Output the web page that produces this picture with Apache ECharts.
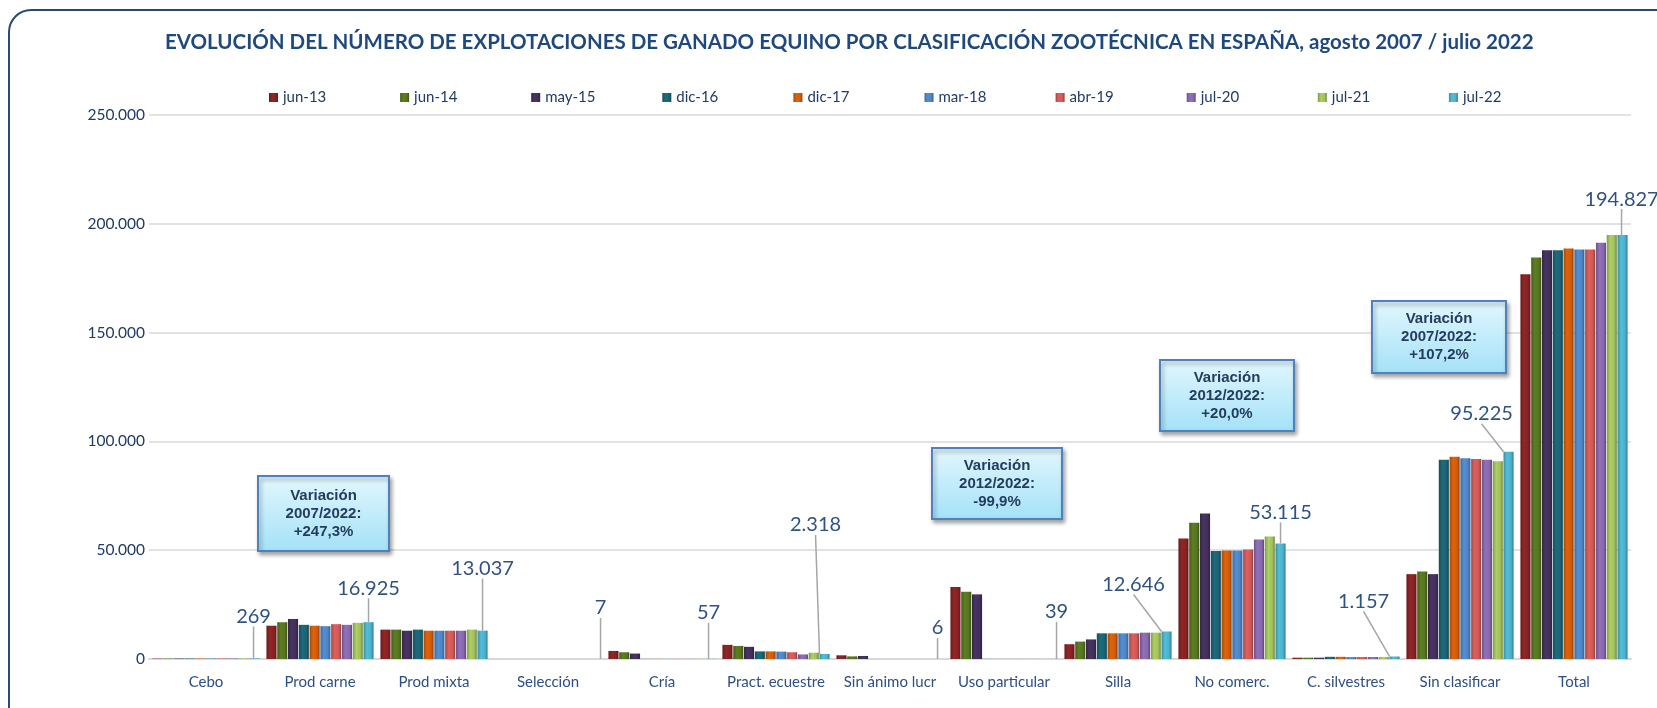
<!DOCTYPE html>
<html>
<head>
	<meta charset="utf-8">
	<title>equino</title>
	<style>
		body { margin: 0; padding: 0; background: #fff; }
		#main { width: 1657px; height: 708px; }
	</style>
</head>
<body>
	<div id="main"></div>
	<script src="https://cdn.jsdelivr.net/npm/echarts@6/dist/echarts.min.js"></script>
	<script type="text/javascript">
		// categorias (eje x)
		var categories = ['Cebo', 'Prod carne', 'Prod mixta', 'Selección', 'Cría', 'Pract. ecuestre', 'Sin ánimo lucr',
			'Uso particular', 'Silla', 'No comerc.', 'C. silvestres', 'Sin clasificar', 'Total'];
		var periods = ['jun-13', 'jun-14', 'may-15', 'dic-16', 'dic-17', 'mar-18', 'abr-19', 'jul-20', 'jul-21', 'jul-22'];

		// numero de explotaciones por periodo
		var jun13 = [180, 15300, 13500, 5, 3700, 6500, 1700, 33100, 6800, 55400, 600, 39000, 176800];
		var jun14 = [200, 16900, 13500, 5, 3100, 6000, 1200, 30900, 8000, 62600, 600, 40200, 184500];
		var may15 = [215, 18400, 13000, 5, 2500, 5600, 1400, 29700, 9000, 66900, 600, 39000, 187800];
		var dic16 = [230, 15700, 13500, 6, 60, 3500, 8, 45, 11800, 49600, 1000, 91600, 187800];
		var dic17 = [240, 15300, 13000, 6, 58, 3500, 7, 42, 11800, 49900, 1000, 92900, 188700];
		var mar18 = [245, 15100, 13000, 6, 57, 3400, 7, 41, 11800, 49900, 900, 92300, 188200];
		var abr19 = [250, 16000, 13000, 6, 57, 3100, 6, 40, 11800, 50300, 900, 91900, 188200];
		var jul20 = [255, 15700, 13000, 7, 57, 2100, 6, 40, 12100, 54900, 900, 91600, 191300];
		var jul21 = [262, 16600, 13500, 7, 57, 2900, 6, 39, 12100, 56300, 900, 90900, 194800];
		var jul22 = [269, 16925, 13037, 7, 57, 2318, 6, 39, 12646, 53115, 1157, 95225, 194827];
		var seriesData = [jun13, jun14, may15, dic16, dic17, mar18, abr19, jul20, jul21, jul22];

		// cuadros de variacion
		var noteTexts = ['Variación\n2007/2022:\n+247,3%', 'Variación\n2012/2022:\n-99,9%',
			'Variación\n2012/2022:\n+20,0%', 'Variación\n2007/2022:\n+107,2%'];

		// estilos
		var baseColors = ['#862323', '#56751F', '#42305B', '#1C6374', '#D05C0A', '#4E84C4', '#CF5956', '#8768AD', '#A0C05C', '#4CB0CA'];
		var notePos = [[258, 476, 131, 75], [932, 448, 130, 71], [1160, 360, 134, 71], [1372, 301, 134, 72]];
		var labelOffsets = [[-1, -42], [0, -34], [0, -62], [4, -51], [-2, -46], [-9, -129], [-1, -31],
			[4, -47], [-33, -47], [0, -31], [-31, -55], [-27, -38], [-1, -36]];

		function shade(hex, f) {
			var n = parseInt(hex.slice(1), 16);
			var r = Math.min(255, Math.round(((n >> 16) & 255) * f));
			var g = Math.min(255, Math.round(((n >> 8) & 255) * f));
			var b = Math.min(255, Math.round((n & 255) * f));
			return 'rgb(' + r + ',' + g + ',' + b + ')';
		}

		function fmt(v) {
			return String(v).replace(/\B(?=(\d{3})+(?!\d))/g, '.');
		}

		var series = periods.map(function (p, i) {
			var c = baseColors[i];
			var s = {
				name: p,
				type: 'bar',
				data: seriesData[i],
				barGap: '7%',
				barCategoryGap: '6%',
				itemStyle: {
					color: {
						type: 'linear', x: 0, y: 0, x2: 1, y2: 0,
						colorStops: [
							{ offset: 0, color: shade(c, 0.8) },
							{ offset: 0.35, color: shade(c, 1.08) },
							{ offset: 0.75, color: c },
							{ offset: 1, color: shade(c, 0.7) }
						]
					}
				}
			};
			if (i === periods.length - 1) {
				s.label = {
					show: true,
					position: 'top',
					fontFamily: 'Lato',
					fontSize: 20,
					color: '#2F5283',
					formatter: function (pr) { return fmt(pr.value); }
				};
				s.labelLine = { show: true, lineStyle: { color: '#A6A6A6', width: 1.5 } };
				s.labelLayout = function (pr) {
					var o = labelOffsets[pr.dataIndex];
					return {
						x: pr.rect.x + pr.rect.width / 2 + o[0],
						y: pr.rect.y + o[1],
						align: 'center',
						verticalAlign: 'middle'
					};
				};
			}
			return s;
		});

		// leyenda con posiciones fijas (una por periodo)
		var legends = periods.map(function (p, i) {
			return {
				data: [p],
				left: 264 + i * 131.1,
				top: 85,
				icon: 'rect',
				itemWidth: 9,
				itemHeight: 9,
				textStyle: {
					fontFamily: 'Lato',
					fontSize: 15,
					color: '#1F3B66'
				}
			};
		});

		var graphics = [{
			type: 'rect',
			z: -1,
			shape: { x: 9, y: 10, width: 1720, height: 760, r: 22 },
			style: { fill: 'none', stroke: '#2A4A73', lineWidth: 2 }
		}];
		noteTexts.forEach(function (t, i) {
			var p = notePos[i];
			graphics.push({
				type: 'rect',
				z: 100,
				x: p[0],
				y: p[1],
				shape: { x: 0, y: 0, width: p[2], height: p[3] },
				style: {
					fill: {
						type: 'linear', x: 0, y: 0, x2: 0, y2: 1,
						colorStops: [{ offset: 0, color: '#E3F7FE' }, { offset: 1, color: '#A3E1F7' }]
					},
					stroke: '#4F81BD',
					lineWidth: 2,
					shadowBlur: 4,
					shadowOffsetX: 2,
					shadowOffsetY: 3,
					shadowColor: 'rgba(0,0,0,0.35)'
				}
			});
			graphics.push({
				type: 'text',
				z: 101,
				x: p[0] + p[2] / 2,
				y: p[1] + p[3] / 2,
				style: {
					text: t,
					font: 'bold 15px "Liberation Sans"',
					fill: '#243D5E',
					align: 'center',
					verticalAlign: 'middle',
					lineHeight: 18
				}
			});
		});

		var myChart = echarts.init(document.getElementById('main'));
		myChart.setOption({
			animation: false,
			title: {
				text: 'EVOLUCIÓN DEL NÚMERO DE EXPLOTACIONES DE GANADO EQUINO POR CLASIFICACIÓN ZOOTÉCNICA EN ESPAÑA, agosto 2007 / julio 2022',
				left: 160,
				top: 27,
				textStyle: {
					fontFamily: 'Lato',
					fontWeight: 'bold',
					fontSize: 20.5,
					color: '#1F497D'
				}
			},
			legend: legends,
			grid: {
				left: 149,
				right: 26,
				top: 115,
				bottom: 49,
				outerBoundsMode: 'none'
			},
			xAxis: {
				type: 'category',
				data: categories,
				axisTick: { show: false },
				axisLine: { lineStyle: { color: '#D9D9D9', width: 2 } },
				axisLabel: {
					margin: 16,
					fontFamily: 'Lato',
					fontSize: 15,
					color: '#2E4F82',
					interval: 0
				}
			},
			yAxis: {
				type: 'value',
				min: 0,
				max: 250000,
				interval: 50000,
				axisLine: { show: false },
				axisTick: { show: false },
				splitLine: { lineStyle: { color: '#D9D9D9', width: 1.5 } },
				axisLabel: {
					margin: 4,
					fontFamily: 'Lato',
					fontSize: 15.5,
					color: '#1F3B66',
					formatter: fmt
				}
			},
			series: series,
			graphic: { elements: graphics }
		});
	</script>
</body>
</html>
